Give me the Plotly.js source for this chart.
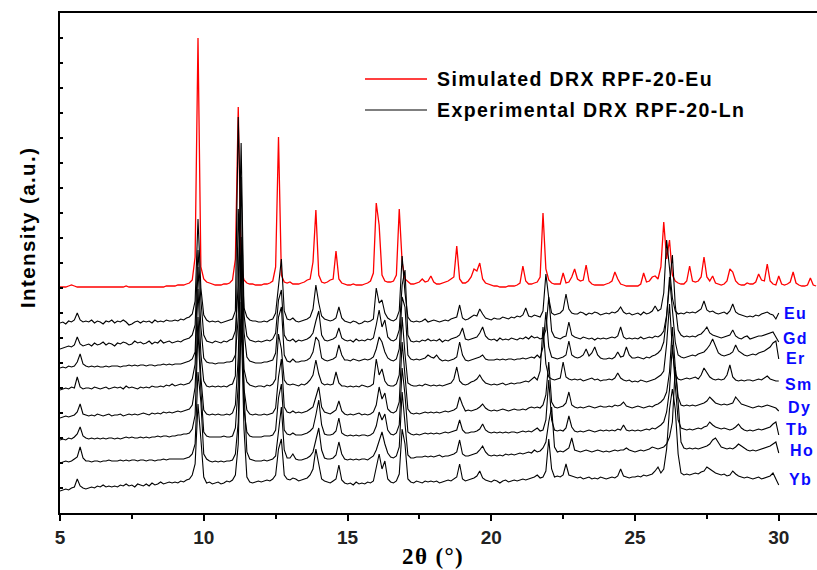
<!DOCTYPE html>
<html>
<head>
<meta charset="utf-8">
<script src="https://cdn.plot.ly/plotly-3.0.1.min.js"></script>
<style>
html,body{margin:0;padding:0;background:#fff;overflow:hidden;width:817px;height:570px;}
#chart{width:900px;height:570px;}
svg text.annotation-text{letter-spacing:1.4px;}
</style>
</head>
<body>
<div id="chart"></div>
<script>
// 2θ positions (degrees), scan step 0.1
const twoTheta = [
5.0,5.1,5.2,5.3,5.4,5.5,5.6,5.7,5.8,5.9,
6.0,6.1,6.2,6.3,6.4,6.5,6.6,6.7,6.8,6.9,
7.0,7.1,7.2,7.3,7.4,7.5,7.6,7.7,7.8,7.9,
8.0,8.1,8.2,8.3,8.4,8.5,8.6,8.7,8.8,8.9,
9.0,9.1,9.2,9.3,9.4,9.5,9.6,9.7,9.8,9.9,
10.0,10.1,10.2,10.3,10.4,10.5,10.6,10.7,10.8,10.9,
11.0,11.1,11.2,11.3,11.4,11.5,11.6,11.7,11.8,11.9,
12.0,12.1,12.2,12.3,12.4,12.5,12.6,12.7,12.8,12.9,
13.0,13.1,13.2,13.3,13.4,13.5,13.6,13.7,13.8,13.9,
14.0,14.1,14.2,14.3,14.4,14.5,14.6,14.7,14.8,14.9,
15.0,15.1,15.2,15.3,15.4,15.5,15.6,15.7,15.8,15.9,
16.0,16.1,16.2,16.3,16.4,16.5,16.6,16.7,16.8,16.9,
17.0,17.1,17.2,17.3,17.4,17.5,17.6,17.7,17.8,17.9,
18.0,18.1,18.2,18.3,18.4,18.5,18.6,18.7,18.8,18.9,
19.0,19.1,19.2,19.3,19.4,19.5,19.6,19.7,19.8,19.9,
20.0,20.1,20.2,20.3,20.4,20.5,20.6,20.7,20.8,20.9,
21.0,21.1,21.2,21.3,21.4,21.5,21.6,21.7,21.8,21.9,
22.0,22.1,22.2,22.3,22.4,22.5,22.6,22.7,22.8,22.9,
23.0,23.1,23.2,23.3,23.4,23.5,23.6,23.7,23.8,23.9,
24.0,24.1,24.2,24.3,24.4,24.5,24.6,24.7,24.8,24.9,
25.0,25.1,25.2,25.3,25.4,25.5,25.6,25.7,25.8,25.9,
26.0,26.1,26.2,26.3,26.4,26.5,26.6,26.7,26.8,26.9,
27.0,27.1,27.2,27.3,27.4,27.5,27.6,27.7,27.8,27.9,
28.0,28.1,28.2,28.3,28.4,28.5,28.6,28.7,28.8,28.9,
29.0,29.1,29.2,29.3,29.4,29.5,29.6,29.7,29.8,29.9,
30.0,30.1,30.2,30.3,30.4,30.5,30.6,30.7,30.8,30.9,
31.0,31.1,31.2,31.3];

// Simulated pattern RPF-20-Eu (intensity, a.u.)
const simEu = [
0,0,0,1,2,1,0,0,0,0,
0,0,0,0,0,0,0,0,0,0,
0,0,0,1,0,0,0,0,0,0,
0,0,0,0,0,0,0,1,1,1,
1,2,2,2,3,4,7,30,249,20,
8,5,4,3,2,2,2,3,3,4,
7,28,180,18,7,4,3,3,2,2,
2,3,3,4,6,20,150,12,5,4,
5,3,3,3,4,5,7,8,25,77,
12,5,4,5,7,8,36,8,4,3,
2,2,3,2,2,2,3,4,6,14,
84,62,12,6,5,5,6,12,78,25,
8,5,3,3,4,5,8,5,6,11,
5,3,3,4,5,6,8,10,41,8,
4,4,6,10,18,16,24,8,4,3,
2,1,1,0,0,0,1,1,1,2,
4,21,6,3,3,4,5,10,74,18,
7,4,3,3,3,14,4,5,10,18,
8,6,7,22,6,3,2,2,2,2,
3,4,6,15,8,3,2,1,1,1,
1,1,3,14,5,6,10,11,8,20,
65,28,47,12,6,4,3,3,6,21,
6,5,6,10,30,10,6,11,4,3,
2,3,6,18,15,6,3,2,2,4,
3,3,5,13,7,6,23,6,3,2,
11,3,2,3,5,15,4,2,1,1,
2,9,2,1];

// Experimental patterns RPF-20-Ln (intensity, a.u., 5–30°)
const expEu = [
0,1,-1,2,1,3,10,3,1,2,
1,3,0,2,1,-1,2,1,3,0,
2,1,3,1,-2,-1,1,2,0,2,
1,2,0,3,1,2,1,3,2,2,
3,2,4,3,5,6,9,22,104,35,
8,3,1,2,1,2,0,1,2,3,
4,12,206,80,15,6,3,2,2,1,
1,2,1,3,4,10,40,64,12,4,
3,5,2,1,2,3,4,6,14,38,
20,7,4,3,2,3,5,16,5,2,
1,0,2,1,-1,0,2,1,2,4,
35,20,23,10,5,3,2,4,12,67,
30,6,2,1,2,1,2,4,1,2,
3,2,1,2,3,2,4,5,6,18,
5,3,4,6,8,7,14,9,5,4,
3,5,4,4,6,5,4,6,5,7,
6,8,15,7,6,8,7,6,12,49,
25,10,8,9,10,13,29,14,10,9,
9,11,10,8,10,9,11,10,8,9,
10,9,11,10,12,16,11,9,10,8,
9,10,8,11,9,10,12,17,12,14,
30,83,55,25,12,9,10,9,11,10,
11,10,12,14,22,13,11,12,10,9,
10,11,9,12,19,11,9,8,7,6,
7,6,8,7,9,10,11,9,8,4,
10];
const expGd = [
-4,-3,-2,-1,-2,0,8,1,-1,0,
1,-1,2,0,1,3,0,2,1,-1,
2,1,3,2,0,1,4,2,3,1,
2,4,1,3,2,5,2,3,4,2,
3,4,3,5,6,7,10,20,95,45,
10,4,3,2,4,3,2,4,3,5,
6,14,60,202,30,9,5,4,3,4,
3,4,5,4,6,12,45,55,10,5,
4,6,3,5,4,5,6,8,12,24,
34,10,5,4,5,6,8,17,7,5,
4,5,3,6,4,5,4,6,5,7,
20,35,18,25,8,5,4,6,15,60,
75,10,4,3,4,3,5,4,6,4,
5,4,6,3,5,4,6,7,8,10,
17,6,5,6,7,8,12,18,9,6,
5,6,4,7,5,6,5,7,6,5,
7,6,8,6,9,7,8,6,7,15,
48,14,8,7,6,8,9,23,10,8,
7,6,8,7,6,7,5,7,6,7,
6,7,8,7,9,18,8,6,7,6,
7,6,8,6,7,8,7,9,8,10,
14,30,60,90,40,15,10,8,9,8,
9,8,10,11,14,18,12,10,9,8,
7,8,9,10,15,9,7,6,8,9,
6,7,8,9,9,10,11,12,13,8,
3];
const expEr = [
-1,0,-1,1,0,1,5,13,3,1,
0,1,0,1,0,0,1,0,1,1,
1,0,1,1,2,1,2,1,2,2,
1,2,2,1,2,2,3,2,3,2,
3,3,3,4,5,6,8,15,100,40,
9,5,4,4,3,4,4,4,5,5,
6,12,50,190,35,10,6,5,4,4,
4,5,5,6,7,14,50,60,12,6,
5,8,5,5,6,6,7,9,15,30,
26,9,7,6,7,8,10,22,12,7,
7,6,8,7,6,7,8,7,8,10,
18,30,25,15,9,7,6,8,18,70,
60,12,8,7,8,7,8,9,12,10,
9,12,8,6,7,6,7,8,10,25,
12,7,6,7,8,9,10,12,8,7,
7,7,8,7,8,7,8,8,7,8,
8,9,8,9,10,9,12,9,20,55,
20,10,9,8,9,10,12,26,12,10,
9,10,12,18,11,14,20,12,9,8,
8,9,8,10,15,10,11,20,12,9,
9,10,9,8,10,9,11,12,14,17,
25,50,90,60,25,12,10,9,10,11,
12,11,13,14,15,18,22,28,20,14,
12,11,12,13,15,22,16,14,12,11,
12,13,12,14,15,16,18,20,24,26,
8];
const expSm = [
-1,0,1,0,2,1,12,2,0,1,
1,0,2,1,0,1,2,0,1,2,
1,2,0,3,1,2,1,0,2,1,
2,1,3,2,2,3,2,4,3,5,
3,4,5,4,5,6,10,25,100,35,
8,3,2,3,2,3,2,3,2,4,
5,13,180,95,20,7,4,3,2,3,
3,2,4,3,5,10,55,40,9,5,
4,5,4,3,5,4,6,9,14,29,
15,6,4,5,4,5,17,6,3,3,
2,3,2,3,2,4,3,2,3,5,
30,14,20,8,4,3,3,5,14,72,
35,6,4,3,3,4,3,5,4,3,
4,3,4,3,4,5,6,10,22,8,
5,4,5,7,8,10,14,9,6,5,
4,5,4,5,6,4,5,6,5,6,
6,7,8,7,10,12,9,18,62,25,
12,10,9,10,11,27,12,10,9,10,
9,10,8,9,10,11,9,10,8,9,
9,10,9,11,16,11,9,8,9,7,
8,7,9,8,7,8,9,10,12,14,
18,45,85,40,15,10,9,10,11,10,
11,12,10,14,21,17,12,10,9,10,
9,10,14,24,12,9,8,9,8,9,
9,8,9,10,9,11,13,10,9,8,
8];
const expDy = [
-1,0,1,0,1,2,5,13,3,2,
1,2,1,3,2,1,2,3,1,2,
2,3,1,2,3,2,3,2,3,4,
3,2,4,3,4,3,5,4,5,4,
5,6,5,6,7,8,12,30,100,40,
7,3,2,3,2,3,2,2,3,2,
4,12,60,180,28,7,3,2,3,2,
2,3,2,3,4,9,40,58,10,5,
4,6,4,5,4,5,6,8,10,20,
30,10,5,4,3,5,7,16,6,3,
2,3,2,3,4,2,3,2,3,5,
12,30,18,24,8,5,4,6,15,75,
40,8,4,3,4,3,4,5,4,5,
4,5,4,5,6,5,6,7,9,20,
12,6,7,6,7,8,10,13,9,7,
6,7,6,7,8,7,6,7,8,7,
7,8,7,9,10,9,10,9,12,22,
55,15,10,9,10,11,14,25,12,10,
9,10,9,10,11,10,9,10,11,10,
10,11,10,12,11,12,15,11,10,9,
10,11,10,9,10,11,10,12,13,15,
18,25,45,90,50,20,12,11,12,11,
12,11,12,13,14,16,20,17,14,13,
12,13,12,13,14,20,16,13,12,11,
10,9,10,11,10,11,12,11,10,9,
6];
const expTb = [
0,1,0,2,1,3,6,13,4,2,
1,2,1,2,1,2,1,2,2,1,
2,1,2,3,2,3,2,2,3,2,
3,2,3,3,4,3,4,4,3,4,
4,5,5,6,6,7,11,25,110,50,
8,4,3,3,3,3,3,4,3,3,
4,12,55,185,30,8,4,3,3,3,
3,4,4,4,5,10,42,56,10,6,
5,7,5,5,5,6,7,9,12,25,
40,15,6,5,5,6,9,22,7,5,
4,5,4,5,4,5,5,4,5,7,
14,28,20,26,10,6,5,7,15,72,
45,8,6,5,6,5,6,7,6,7,
6,7,6,7,8,7,8,9,10,20,
10,7,7,8,8,9,11,16,10,8,
7,8,7,8,7,8,7,8,8,7,
8,9,8,9,8,10,12,9,10,20,
60,20,10,9,10,9,12,24,13,9,
8,9,8,9,10,9,8,9,10,9,
10,9,10,9,11,10,15,10,9,10,
9,10,9,10,11,10,12,11,13,15,
18,28,50,95,55,20,12,11,10,11,
10,11,12,11,13,14,18,15,13,12,
11,12,11,10,11,13,16,12,10,9,
10,9,10,11,10,11,12,13,16,18,
5];
const expHo = [
-1,0,1,0,1,3,5,15,4,1,
1,0,1,1,0,1,1,2,1,1,
1,2,1,2,1,2,2,1,2,2,
1,2,2,1,2,2,3,2,3,3,
3,3,3,3,4,5,8,18,90,60,
8,3,1,0,1,0,1,0,1,1,
2,8,40,160,70,10,3,2,1,1,
1,2,1,2,3,6,30,55,12,4,
4,8,3,2,2,3,4,6,10,22,
34,12,4,3,3,4,7,20,8,3,
2,3,2,3,2,3,3,2,4,6,
12,20,30,18,9,5,4,6,15,70,
40,7,4,4,5,5,5,6,5,6,
5,6,7,5,6,6,7,8,10,22,
8,6,6,7,8,9,12,16,10,7,
6,7,6,7,6,8,7,8,7,8,
9,8,9,10,9,12,10,11,14,20,
40,55,15,10,11,10,12,14,24,12,
11,10,11,12,11,10,11,12,11,10,
11,10,11,12,11,12,12,14,12,11,
10,11,12,11,12,13,15,14,13,14,
15,18,25,40,95,60,20,14,13,14,
13,14,13,14,15,16,18,22,24,20,
15,14,13,14,13,15,18,16,14,12,
11,12,11,12,13,14,15,16,18,20,
9];
const expYb = [
-2,-1,0,-1,1,2,10,3,1,0,
1,2,1,3,2,4,2,3,2,3,
2,4,3,5,3,4,2,5,4,3,
5,3,6,4,5,7,5,6,7,6,
7,6,8,7,9,10,14,25,85,50,
12,6,7,5,6,7,5,6,8,7,
9,14,45,170,60,12,7,6,7,8,
7,8,9,8,10,14,40,50,14,10,
9,11,10,8,9,10,11,14,20,40,
25,10,8,7,6,8,10,24,9,6,
5,6,4,7,5,6,5,7,6,8,
20,35,20,28,10,7,6,8,15,60,
45,10,7,6,8,7,6,8,7,8,
7,8,6,7,8,9,8,10,12,25,
10,8,9,10,11,13,18,11,9,8,
7,9,8,6,8,9,7,8,9,8,
9,10,9,10,11,12,14,11,12,18,
50,20,12,13,12,14,25,14,13,12,
11,12,10,11,12,10,11,10,12,11,
10,11,12,11,13,20,13,12,11,12,
12,13,12,14,13,14,15,18,22,16,
20,40,80,100,80,35,16,14,15,14,
15,16,15,17,18,22,20,18,16,15,
14,15,13,14,18,15,13,12,11,12,
11,10,11,12,10,11,12,13,16,10,
4];

const lnLabels = ['Eu','Gd','Er','Sm','Dy','Tb','Ho','Yb'];
const expSeries = [expEu, expGd, expEr, expSm, expDy, expTb, expHo, expYb];
const simOffset = 226;
const expOffsets = [190,168,146,124,96,73,51,24];

const traces = [];
traces.push({
  x: twoTheta.slice(0, simEu.length),
  y: simEu.map(v => v + simOffset),
  type: 'scatter', mode: 'lines',
  line: {color: '#ff0000', width: 1.3},
  name: 'Simulated DRX RPF-20-Eu', showlegend: false
});
expSeries.forEach((s, i) => {
  traces.push({
    x: twoTheta.slice(0, s.length),
    y: s.map(v => v + expOffsets[i]),
    type: 'scatter', mode: 'lines',
    line: {color: '#000000', width: 1.1},
    name: 'Experimental DRX RPF-20-' + lnLabels[i], showlegend: false
  });
});

const L = 60, T = 13, PW = 800, PH = 500;
function px2paperX(px){ return (px - L) / PW; }
function py2paperY(py){ return (T + PH - py) / PH; }

const labelPos = [[30.58,200],[30.58,175],[30.59,155],[30.69,129],[30.71,106],[30.64,84],[30.81,63],[30.74,34]];
const annotations = lnLabels.map((t, i) => ({
  x: labelPos[i][0], y: labelPos[i][1], xref: 'x', yref: 'y',
  text: t, showarrow: false, xanchor: 'center', yanchor: 'middle',
  font: {family: 'Liberation Sans, Arial, sans-serif', size: 16, color: '#0a0aff', weight: 'bold'}
}));
const legendFont = {family: 'Liberation Sans, Arial, sans-serif', size: 19.5, color: '#000', weight: 'bold'};
annotations.push({
  x: px2paperX(435), y: py2paperY(79), xref: 'paper', yref: 'paper',
  text: 'Simulated DRX RPF-20-Eu', showarrow: false, xanchor: 'left', yanchor: 'middle', font: legendFont
});
annotations.push({
  x: px2paperX(435), y: py2paperY(110), xref: 'paper', yref: 'paper',
  text: 'Experimental DRX RPF-20-Ln', showarrow: false, xanchor: 'left', yanchor: 'middle', font: legendFont
});
annotations.push({
  x: px2paperX(27), y: py2paperY(228), xref: 'paper', yref: 'paper',
  text: 'Intensity (a.u.)', textangle: -90, showarrow: false,
  xanchor: 'center', yanchor: 'middle',
  font: {family: 'Liberation Sans, Arial, sans-serif', size: 20.5, color: '#000', weight: 'bold'}
});
annotations.push({
  x: px2paperX(433), y: py2paperY(556), xref: 'paper', yref: 'paper',
  text: '2θ (°)', showarrow: false, xanchor: 'center', yanchor: 'middle',
  font: {family: 'Liberation Serif, Times New Roman, serif', size: 23, color: '#000', weight: 'bold'}
});

const shapes = [
  {type: 'line', xref: 'paper', yref: 'paper', x0: px2paperX(365), x1: px2paperX(427), y0: py2paperY(79), y1: py2paperY(79), line: {color: '#ff0000', width: 1.5}},
  {type: 'line', xref: 'paper', yref: 'paper', x0: px2paperX(365), x1: px2paperX(427), y0: py2paperY(110), y1: py2paperY(110), line: {color: '#000000', width: 1.2}}
];

const layout = {
  width: 900, height: 570,
  margin: {l: L, r: 40, t: T, b: 57},
  paper_bgcolor: '#fff', plot_bgcolor: '#fff',
  showlegend: false,
  xaxis: {
    range: [5, 5 + PW / 28.75],
    tickmode: 'linear', tick0: 5, dtick: 5,
    ticks: 'outside', ticklen: 6, tickwidth: 2, tickcolor: '#000',
    minor: {dtick: 2.5, ticks: 'outside', ticklen: 4, tickwidth: 2, tickcolor: '#000'},
    showline: true, linewidth: 2, linecolor: '#000', mirror: true,
    showgrid: false, zeroline: false,
    tickfont: {family: 'Liberation Sans, Arial, sans-serif', size: 19, color: '#222', weight: 'bold'}
  },
  yaxis: {
    range: [0, 500],
    tickmode: 'linear', tick0: 0, dtick: 25,
    ticks: 'inside', ticklen: 3, tickwidth: 1.5, tickcolor: '#000',
    showticklabels: false,
    showline: true, linewidth: 2, linecolor: '#000', mirror: true,
    showgrid: false, zeroline: false
  },
  annotations: annotations,
  shapes: shapes
};

Plotly.newPlot('chart', traces, layout, {staticPlot: true, displayModeBar: false});
</script>
</body>
</html>
